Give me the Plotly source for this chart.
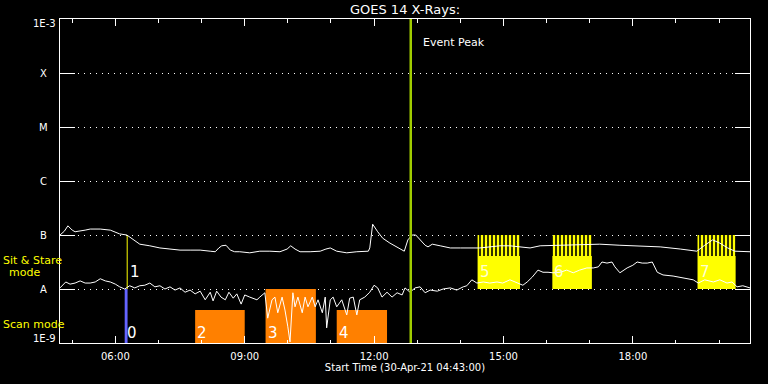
import numpy as np
import pandas as pd
import plotly.graph_objects as go

DAY = "2021-04-30"
START = "04:43"
END = "20:43"

# GOES 14 long channel (1-8 A): minutes after start, log10 flux (W/m^2)
long_min = [0, 6, 11, 17, 21, 28, 35, 42, 56, 70, 83, 93, 102, 111, 125, 139, 153, 167, 181, 195,
            209, 216, 221, 225, 231, 237, 243, 250, 264, 278, 292, 306, 316, 321, 327, 334, 348, 362,
            370, 376, 385, 399, 413, 429, 431, 435, 442, 449, 459, 469, 476, 479, 484, 490, 495, 501,
            508, 512, 518, 529, 543, 557, 570, 584, 598, 612, 626, 640, 654, 668, 696, 723, 751, 779,
            807, 835, 863, 886, 897, 908, 918, 929, 939, 960]
long_log = [-7.00, -6.93, -6.83, -6.91, -6.94, -6.93, -6.91, -6.89, -6.89, -6.91, -6.98, -7.00, -7.09,
            -7.17, -7.20, -7.24, -7.26, -7.28, -7.28, -7.28, -7.30, -7.31, -7.24, -7.20, -7.19, -7.28,
            -7.31, -7.31, -7.33, -7.30, -7.30, -7.31, -7.26, -7.20, -7.26, -7.31, -7.31, -7.30, -7.26,
            -7.24, -7.30, -7.33, -7.31, -7.30, -7.24, -6.80, -6.94, -7.06, -7.15, -7.22, -7.28, -7.30,
            -7.09, -7.00, -7.00, -7.09, -7.19, -7.22, -7.17, -7.20, -7.24, -7.24, -7.24, -7.24, -7.22,
            -7.20, -7.20, -7.22, -7.24, -7.20, -7.19, -7.17, -7.17, -7.19, -7.20, -7.22, -7.26, -7.30,
            -7.19, -7.09, -7.15, -7.24, -7.30, -7.31]

# GOES 14 short channel (0.5-4 A): minutes after start, log10 flux (W/m^2)
short_min = [0, 8, 14, 21, 28, 35, 42, 49, 56, 63, 70, 77, 83, 90, 97, 104, 111, 118, 125, 132, 139,
             146, 153, 160, 167, 174, 181, 188, 195, 202, 209, 213, 218, 224, 230, 235, 241, 246, 252,
             257, 264, 269, 274, 278, 285, 289, 295, 299, 303, 309, 313, 317, 320, 324, 327, 331, 337,
             341, 345, 351, 355, 359, 365, 369, 371, 376, 380, 385, 392, 399, 403, 408, 413, 417, 424,
             431, 437, 442, 448, 455, 462, 469, 476, 480, 487, 494, 501, 508, 515, 525, 533, 543, 552,
             561, 566, 573, 580, 589, 598, 608, 616, 626, 636, 644, 650, 657, 665, 672, 679, 686, 696,
             705, 714, 723, 733, 742, 749, 754, 761, 768, 772, 779, 789, 797, 803, 810, 817, 824, 831,
             839, 853, 863, 872, 881, 888, 897, 909, 918, 928, 935, 942, 950, 960]
short_log = [-7.98, -7.87, -7.91, -7.89, -7.85, -7.89, -7.89, -7.87, -7.81, -7.85, -7.87, -7.91, -7.96,
             -8.00, -7.94, -7.98, -7.94, -7.93, -7.89, -7.96, -7.94, -8.00, -7.96, -8.02, -7.98, -8.06,
             -8.02, -8.09, -8.04, -8.20, -8.06, -8.22, -8.04, -8.15, -8.20, -8.06, -8.17, -8.09, -8.28,
             -8.11, -8.15, -8.17, -8.20, -8.15, -8.07, -8.54, -8.20, -8.15, -8.44, -8.15, -8.39, -8.70,
             -8.98, -8.07, -8.33, -8.15, -8.44, -8.15, -8.33, -8.15, -8.33, -8.20, -8.44, -8.15, -8.72,
             -8.20, -8.15, -8.33, -8.20, -8.48, -8.17, -8.15, -8.48, -8.20, -8.15, -8.06, -7.93, -7.98,
             -8.15, -8.06, -8.15, -8.07, -8.11, -7.98, -8.06, -7.98, -7.96, -8.07, -8.02, -8.04, -8.00,
             -7.98, -8.02, -7.96, -7.94, -7.83, -7.89, -7.87, -7.89, -7.87, -7.89, -7.83, -7.89, -7.93,
             -7.87, -7.78, -7.65, -7.69, -7.69, -7.70, -7.69, -7.65, -7.70, -7.65, -7.61, -7.61, -7.59,
             -7.50, -7.52, -7.50, -7.59, -7.70, -7.61, -7.56, -7.50, -7.52, -7.52, -7.50, -7.69, -7.74,
             -7.76, -7.78, -7.80, -7.83, -7.89, -7.83, -7.87, -7.83, -7.89, -7.87, -7.96, -7.94, -7.98]

# IRIS rasters
scan_start = ["07:51", "09:29", "11:08"]
scan_end = ["09:00", "10:39", "12:18"]
scan_top = [4.1e-9, 1.0e-8, 4.1e-9]
scan_labels = ["2", "3", "4"]

sns_start = ["14:24", "16:08", "19:30"]
sns_end = ["15:23", "17:03", "20:23"]
sns_labels = ["5", "6", "7"]
sns_box_top = 4.1e-8
sns_stripe_top = 1.0e-7

raster0 = ["06:13", "06:17"]
raster1 = "06:16:30"
event_peak = "12:51"

y_levels = [1e-4, 1e-5, 1e-6, 1e-7, 1e-8]
y_letters = ["X", "M", "C", "B", "A"]

FONT = "DejaVu Sans"


def T(hm):
    return pd.Timestamp(f"{DAY} {hm}")


t0 = T(START)
long_t = t0 + pd.to_timedelta(long_min, unit="min")
short_t = t0 + pd.to_timedelta(short_min, unit="min")

fig = go.Figure()


def rect(xa, xb, ylo, yhi, color, pattern=None):
    kw = dict(
        x=[T(xa), T(xb), T(xb), T(xa), T(xa)],
        y=[ylo, ylo, yhi, yhi, ylo],
        mode="lines", fill="toself", line=dict(width=0, color=color),
        fillcolor=color, hoverinfo="skip", showlegend=False,
    )
    if pattern:
        kw["fillcolor"] = "black"
        kw["fillpattern"] = pattern
    fig.add_trace(go.Scatter(**kw))


# scan rasters (orange)
for a, b, top in zip(scan_start, scan_end, scan_top):
    rect(a, b, 1e-9, top, "#ff8000")

# sit & stare rasters (yellow box + striped exposures)
for a, b in zip(sns_start, sns_end):
    rect(a, b, 1e-8, sns_box_top, "#ffff00")
    rect(a, b, sns_box_top, sns_stripe_top, "#ffff00",
         pattern=dict(shape="|", fgcolor="#ffff00", bgcolor="black", size=4, solidity=0.6, fgopacity=1))

# raster 0 (blue) and raster 1 (yellow line)
rect(raster0[0], raster0[1], 1e-9, 1e-8, "#6464ff")
fig.add_trace(go.Scatter(x=[T(raster1), T(raster1)], y=[1e-8, 1e-7], mode="lines",
                         line=dict(color="#ffff00", width=1), hoverinfo="skip", showlegend=False))

# GOES curves
fig.add_trace(go.Scatter(x=long_t, y=10 ** np.array(long_log), mode="lines",
                         line=dict(color="white", width=1), showlegend=False))
fig.add_trace(go.Scatter(x=short_t, y=10 ** np.array(short_log), mode="lines",
                         line=dict(color="white", width=1), showlegend=False))

# event peak line
fig.add_trace(go.Scatter(x=[T(event_peak), T(event_peak)], y=[1e-9, 1e-3], mode="lines",
                         line=dict(color="#a0cc00", width=2.5), hoverinfo="skip", showlegend=False))

ann = []
ann.append(dict(x=T(event_peak), y=0.926, xref="x", yref="paper", text="Event Peak",
                xanchor="left", yanchor="middle", xshift=10, showarrow=False,
                font=dict(family=FONT, size=11, color="white")))

num_font = dict(family=FONT, size=15, color="white")
ann.append(dict(x=T(raster0[0]), y=-8.82, text="0", xanchor="left", yanchor="middle",
                xshift=0, showarrow=False, font=num_font))
ann.append(dict(x=T(raster1), y=-7.69, text="1", xanchor="left", yanchor="middle",
                xshift=1, showarrow=False, font=num_font))
for a, lab in zip(scan_start, scan_labels):
    ann.append(dict(x=T(a), y=-8.82, text=lab, xanchor="left", yanchor="middle",
                    xshift=0, showarrow=False, font=num_font))
for a, lab in zip(sns_start, sns_labels):
    ann.append(dict(x=T(a), y=-7.68, text=lab, xanchor="left", yanchor="middle",
                    xshift=0, showarrow=False, font=dict(family=FONT, size=15, color="#ffffd0")))

# y level labels
lab_font = dict(family=FONT, size=10, color="white")
ann.append(dict(x=0, y=1, xref="paper", yref="paper", text="1E-3", xanchor="right",
                yanchor="top", xshift=-2, yshift=3, showarrow=False, font=lab_font))
ann.append(dict(x=0, y=0, xref="paper", yref="paper", text="1E-9", xanchor="right",
                yanchor="bottom", xshift=-2, yshift=-3, showarrow=False, font=lab_font))
for v, l in zip(y_levels, y_letters):
    ann.append(dict(x=0, y=np.log10(v), xref="paper", yref="y", text=l, xanchor="center",
                    yanchor="middle", xshift=-17, showarrow=False, font=lab_font))

# mode labels
mode_font = dict(family=FONT, size=11, color="#ffff00")
ann.append(dict(x=0, y=(343 - 260) / 324, xref="paper", yref="paper", text="Sit & Stare",
                xanchor="left", yanchor="middle", xshift=-59, showarrow=False, font=mode_font))
ann.append(dict(x=0, y=(343 - 272) / 324, xref="paper", yref="paper", text="mode",
                xanchor="center", yanchor="middle", xshift=-36, showarrow=False, font=mode_font))
ann.append(dict(x=0, y=(343 - 324) / 324, xref="paper", yref="paper", text="Scan mode",
                xanchor="left", yanchor="middle", xshift=-59, showarrow=False, font=mode_font))

fig.update_layout(
    width=768, height=384,
    margin=dict(l=60, r=18, t=19, b=41),
    paper_bgcolor="black", plot_bgcolor="black",
    title=dict(text="GOES 14 X-Rays:", x=0.5, xref="paper", y=1 - 9.5 / 384, yref="container",
               xanchor="center", yanchor="middle",
               font=dict(family=FONT, size=13, color="white")),
    annotations=ann,
    showlegend=False,
)

fig.update_xaxes(
    type="date", range=[T(START), T(END)],
    tick0=f"{DAY} 00:00", dtick=3 * 3600000, tickformat="%H:%M",
    ticks="inside", ticklen=7, tickcolor="white", tickwidth=1,
    minor=dict(dtick=3600000, tick0=f"{DAY} 00:00", ticks="inside", ticklen=3.5,
               tickcolor="white", showgrid=False),
    showline=True, linecolor="white", linewidth=1, mirror="allticks",
    showgrid=False, zeroline=False, ticklabelstandoff=4,
    tickfont=dict(family=FONT, size=10, color="white"),
    title=dict(text="Start Time (30-Apr-21 04:43:00)", standoff=2,
               font=dict(family=FONT, size=10, color="white")),
)

fig.update_yaxes(
    type="log", range=[-9, -3],
    tickvals=y_levels, showticklabels=False,
    ticks="inside", ticklen=15, tickcolor="white", tickwidth=1,
    showline=True, linecolor="white", linewidth=1, mirror="allticks",
    showgrid=True, gridcolor="white", gridwidth=1, griddash="1px,5px",
    zeroline=False,
)

fig.write_html("out.html")
